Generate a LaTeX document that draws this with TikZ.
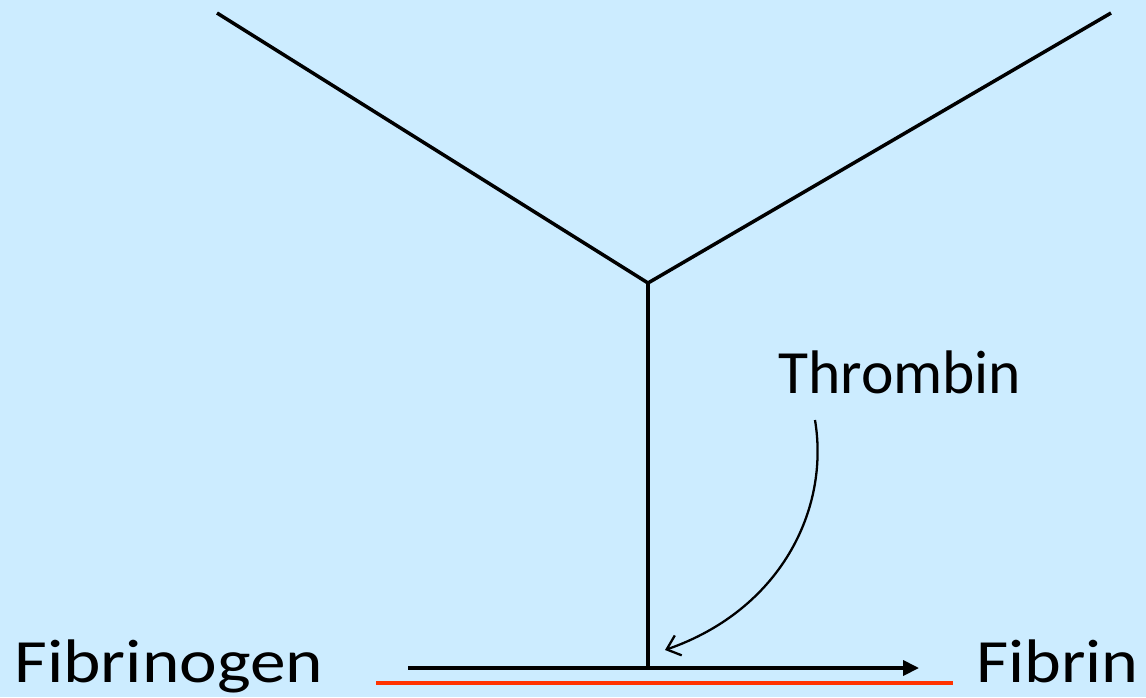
\documentclass[tikz,border=0pt]{standalone}
\usepackage{fontspec}
\setmainfont{Carlito}
\usetikzlibrary{arrows.meta}
\definecolor{SlideBlue}{HTML}{CCECFF}
\definecolor{CutRed}{HTML}{FF3300}

\begin{document}
\begin{tikzpicture}[x=0.02cm, y=-0.02cm, >=Triangle,
    label/.style={inner sep=0pt, anchor=base west, font=\fontsize{35}{42}\selectfont}]
    % Background
    \fill[SlideBlue] (0,0) rectangle (1146,697);
    \useasboundingbox (0,0) rectangle (1146,697);

    % Y-shaped molecule
    \coordinate (armL) at (217,13);
    \coordinate (armR) at (1111,13);
    \coordinate (fork) at (648,283);
    \coordinate (foot) at (648,668);
    \draw[line width=2pt] (armL) -- (fork) -- (armR);
    \draw[line width=2pt] (fork) -- (foot);

    % Reaction arrow
    \coordinate (rxnStart) at (408,668);
    \coordinate (rxnEnd) at (919,668);
    \draw[->, line width=2pt, >={Triangle[length=9pt,width=8.5pt]}] (rxnStart) -- (rxnEnd);

    % Red underline
    \coordinate (redL) at (376,683);
    \coordinate (redR) at (953,683);
    \draw[CutRed, line width=2.4pt] (redL) -- (redR);

    % Labels
    \node[label] (fibrinogen) at (14,682) {\scalebox{1.16}[1]{Fibrinogen}};
    \node[label] (fibrin) at (976,682) {\scalebox{1.14}[1]{Fibrin}};
    \node[label] (thrombin) at (778,393) {Thrombin};

    % Thrombin pointer
    \coordinate (ptrStart) at (815,420);
    \coordinate (ptrTip) at (665,650);
    \draw[-{Straight Barb[length=7pt,width=12pt]}, line width=1.3pt]
        (ptrStart) .. controls (830,510) and (780,610) .. (ptrTip);
\end{tikzpicture}
\end{document}
